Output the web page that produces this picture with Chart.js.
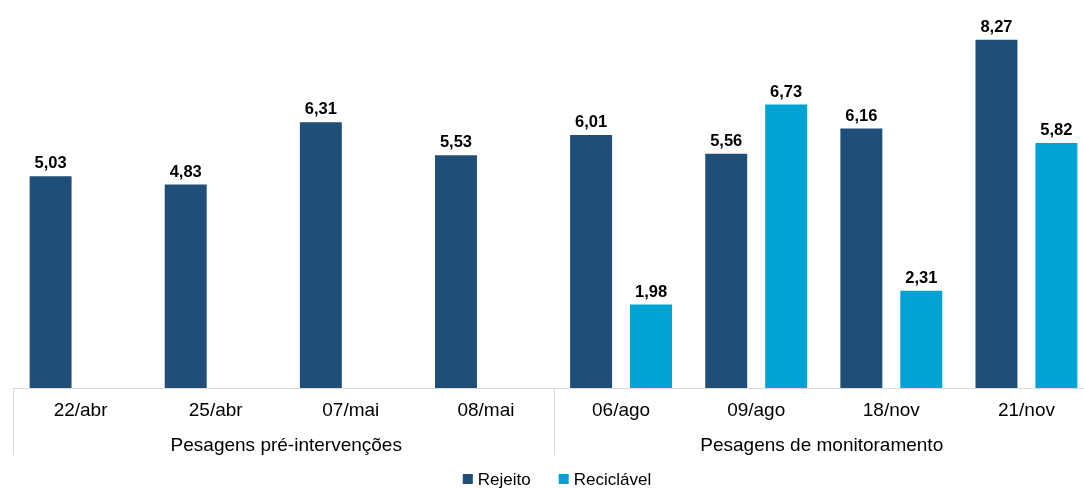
<!DOCTYPE html>
<html>
<head>
<meta charset="utf-8">
<script src="https://cdn.jsdelivr.net/npm/chart.js@4.4.0/dist/chart.umd.min.js"></script>
<style>
  html, body { margin: 0; padding: 0; background: #fff; overflow: hidden; }
  /* the plot runs a little past the right edge, like the original crop */
  #wrap { width: 1094px; height: 488px; }
</style>
</head>
<body>
<div id="wrap"><canvas id="chart"></canvas></div>
<script>
// pesagens
const categories = ["22/abr", "25/abr", "07/mai", "08/mai", "06/ago", "09/ago", "18/nov", "21/nov"];
const rejeito = [5.03, 4.83, 6.31, 5.53, 6.01, 5.56, 6.16, 8.27];
const reciclavel = [null, null, null, null, 1.98, 6.73, 2.31, 5.82];
const groups = ["Pesagens pré-intervenções", "Pesagens de monitoramento"];
const groupSize = [4, 4];

const fontFamily = "'Liberation Sans', Arial, sans-serif";
const visibleWidth = 1084;

function fmt(v) {
  return v.toFixed(2).replace(".", ",");
}

// labels above each bar
const valueLabels = {
  id: "valueLabels",
  afterDatasetsDraw(chart) {
    const ctx = chart.ctx;
    ctx.save();
    ctx.font = "bold 16.5px " + fontFamily;
    ctx.fillStyle = "#000";
    ctx.textAlign = "center";
    ctx.textBaseline = "alphabetic";
    chart.data.datasets.forEach((ds, i) => {
      chart.getDatasetMeta(i).data.forEach((bar, j) => {
        if (ds.data[j] == null) return;
        ctx.fillText(fmt(ds.data[j]), bar.x, bar.y - 8);
      });
    });
    ctx.restore();
  }
};

// group separators + group names under the ticks
const groupAxis = {
  id: "groupAxis",
  afterDraw(chart) {
    const ctx = chart.ctx;
    const x = chart.scales.x;
    const area = chart.chartArea;
    const step = x.getPixelForValue(1) - x.getPixelForValue(0);
    const bottom = area.bottom + 67;
    ctx.save();
    ctx.strokeStyle = "#d9d9d9";
    ctx.lineWidth = 1;
    ctx.font = "19px " + fontFamily;
    ctx.fillStyle = "#000";
    ctx.textAlign = "center";
    ctx.textBaseline = "alphabetic";
    let start = 0;
    groups.forEach((g, k) => {
      const end = start + groupSize[k] - 1;
      const left = x.getPixelForValue(start) - step / 2;
      const right = x.getPixelForValue(end) + step / 2;
      [left, right].forEach(px => {
        const p = Math.round(px) + 0.5;
        ctx.beginPath();
        ctx.moveTo(p, area.bottom);
        ctx.lineTo(p, bottom);
        ctx.stroke();
      });
      // centre the name on the part that is visible
      ctx.fillText(g, (left + Math.min(right, visibleWidth)) / 2 + 3, area.bottom + 63);
      start = end + 1;
    });
    // baseline
    ctx.beginPath();
    ctx.moveTo(area.left, Math.round(area.bottom) + 0.5);
    ctx.lineTo(chart.width, Math.round(area.bottom) + 0.5);
    ctx.stroke();
    ctx.restore();
  }
};

// legend row at the bottom
const legendRow = {
  id: "legendRow",
  afterDraw(chart) {
    const ctx = chart.ctx;
    const y = chart.chartArea.bottom + 67 + 24;
    const gapBox = 5, gapItem = 28, box = 10;
    ctx.save();
    ctx.font = "17px " + fontFamily;
    ctx.textBaseline = "middle";
    ctx.textAlign = "left";
    const items = chart.data.datasets.map(ds => ({
      text: ds.label, color: ds.backgroundColor, w: ctx.measureText(ds.label).width
    }));
    let total = items.reduce((s, it) => s + box + gapBox + it.w, 0) + gapItem * (items.length - 1);
    let cx = 557 - total / 2;
    items.forEach(it => {
      ctx.fillStyle = it.color;
      ctx.fillRect(cx, y - box / 2, box, box);
      cx += box + gapBox;
      ctx.fillStyle = "#000";
      ctx.fillText(it.text, cx, y + 1);
      cx += it.w + gapItem;
    });
    ctx.restore();
  }
};

new Chart(document.getElementById("chart"), {
  type: "bar",
  data: {
    labels: categories,
    datasets: [
      { label: "Rejeito", data: rejeito, backgroundColor: "#1F4E79" },
      { label: "Reciclável", data: reciclavel, backgroundColor: "#00A2D3" }
    ]
  },
  options: {
    responsive: true,
    maintainAspectRatio: false,
    animation: false,
    categoryPercentage: 0.887,
    barPercentage: 0.7,
    layout: { padding: { top: 9, left: 13, right: 0, bottom: 33 } },
    plugins: {
      legend: { display: false },
      tooltip: { enabled: false }
    },
    scales: {
      x: {
        grid: { display: false },
        border: { display: false },
        ticks: {
          color: "#000",
          padding: 3,
          maxRotation: 0,
          font: { size: 19, family: fontFamily }
        },
        afterFit(scale) { scale.height = 67; }
      },
      y: {
        display: false,
        min: 0,
        max: 9
      }
    }
  },
  plugins: [valueLabels, groupAxis, legendRow]
});
</script>
</body>
</html>
